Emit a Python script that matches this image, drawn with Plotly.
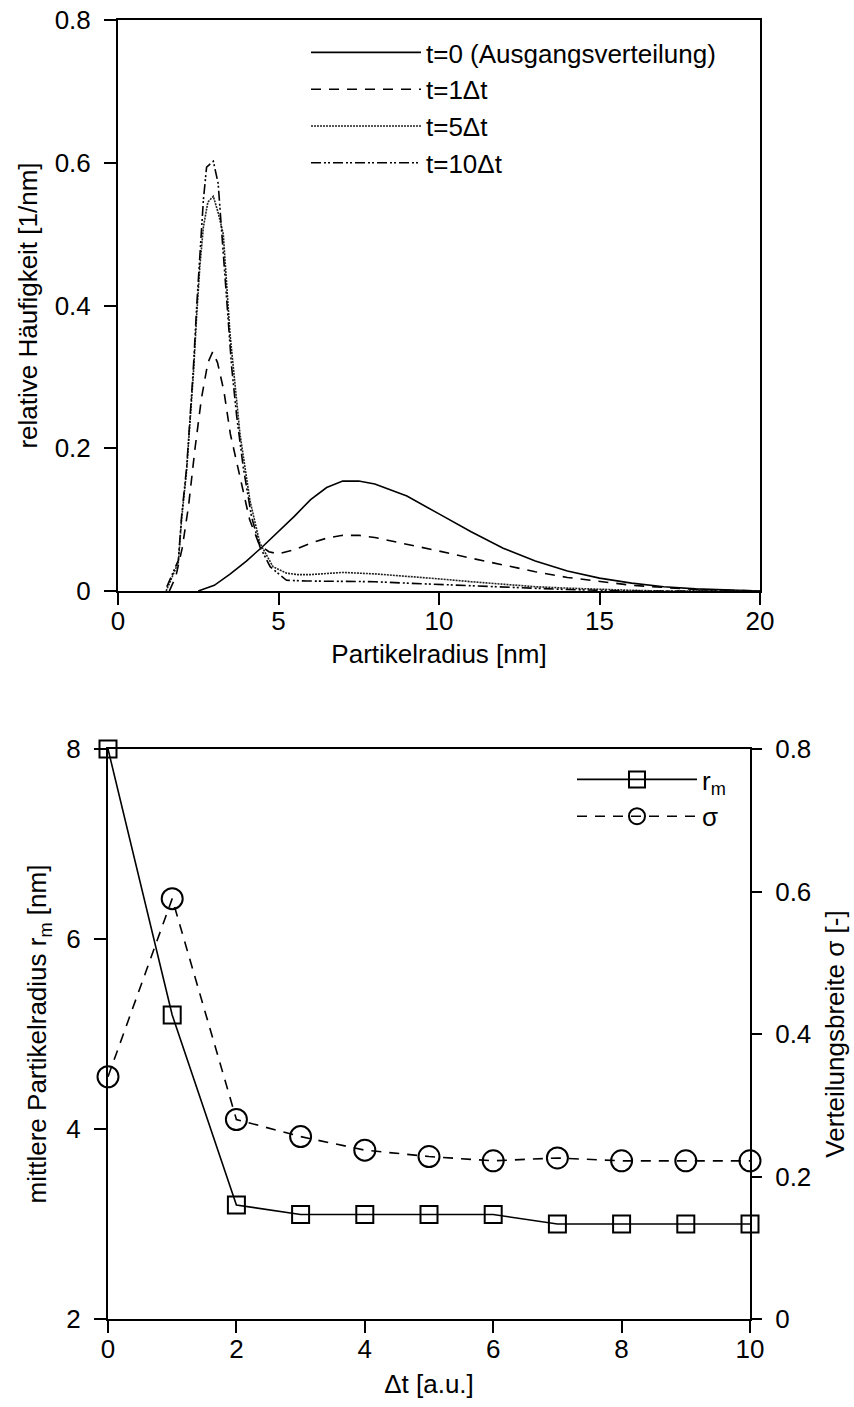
import plotly.graph_objects as go

# ---------------- top panel data ----------------
x_t0 = [2.5, 3, 3.5, 4, 4.5, 5, 5.5, 6, 6.5, 7, 7.5, 8, 9, 10, 11, 12, 13, 14, 15, 16, 17, 18, 19, 20]
y_t0 = [0, 0.008, 0.024, 0.042, 0.062, 0.083, 0.105, 0.128, 0.145, 0.154, 0.154, 0.15, 0.133, 0.108,
        0.083, 0.06, 0.042, 0.028, 0.018, 0.011, 0.006, 0.003, 0.001, 0]

x_t1 = [1.6, 1.8, 2.0, 2.2, 2.4, 2.6, 2.8, 2.95, 3.1, 3.3, 3.5, 3.8, 4.1, 4.4, 4.7, 5.0, 5.5, 6, 6.5,
        7, 7.5, 8, 9, 10, 11, 12, 13, 14, 15, 16, 17, 18, 19, 20]
y_t1 = [0, 0.02, 0.06, 0.12, 0.2, 0.27, 0.32, 0.335, 0.32, 0.28, 0.22, 0.16, 0.1, 0.065, 0.055, 0.052,
        0.058, 0.067, 0.074, 0.078, 0.078, 0.075, 0.066, 0.056, 0.046, 0.036, 0.027, 0.019, 0.013,
        0.008, 0.005, 0.002, 0.001, 0]

x_t5 = [1.5, 1.88, 1.98, 2.14, 2.24, 2.35, 2.45, 2.55, 2.66, 2.8, 2.97, 3.12, 3.28, 3.49, 3.8, 4.11,
        4.42, 4.83, 5.25, 5.6, 6, 7, 8, 9, 10, 11, 12, 13, 14, 15, 16, 17, 20]
y_t5 = [0, 0.04, 0.1, 0.17, 0.235, 0.305, 0.385, 0.455, 0.51, 0.545, 0.553, 0.53, 0.5, 0.36, 0.22,
        0.127, 0.067, 0.034, 0.025, 0.023, 0.023, 0.026, 0.024, 0.021, 0.017, 0.013, 0.009, 0.006,
        0.004, 0.002, 0.001, 0, 0]

x_t10 = [1.52, 1.88, 1.98, 2.14, 2.24, 2.35, 2.45, 2.55, 2.66, 2.76, 2.97, 3.12, 3.23, 3.39, 3.54,
         3.7, 3.9, 4.16, 4.42, 4.74, 5.25, 5.88, 7, 8, 9, 10, 11, 12, 13, 14, 15, 16, 20]
y_t10 = [0.006, 0.043, 0.104, 0.174, 0.24, 0.314, 0.398, 0.478, 0.548, 0.594, 0.602, 0.571, 0.501,
         0.408, 0.314, 0.244, 0.174, 0.104, 0.062, 0.034, 0.015, 0.014, 0.014, 0.013, 0.011, 0.009,
         0.007, 0.005, 0.003, 0.002, 0.001, 0, 0]

top_names = ["t=0 (Ausgangsverteilung)", "t=1\u0394t", "t=5\u0394t", "t=10\u0394t"]

# ---------------- bottom panel data ----------------
dt = [0, 1, 2, 3, 4, 5, 6, 7, 8, 9, 10]
r_m = [8.0, 5.2, 3.2, 3.1, 3.1, 3.1, 3.1, 3.0, 3.0, 3.0, 3.0]
sigma = [0.34, 0.59, 0.28, 0.256, 0.237, 0.228, 0.222, 0.226, 0.222, 0.222, 0.222]

FONT = "Liberation Sans, Arial, sans-serif"
FS = 26
W, H = 854, 1407

fig = go.Figure()

line_w = 1.6
fig.add_trace(go.Scatter(x=x_t0, y=y_t0, mode="lines", name=top_names[0],
                         line=dict(color="black", width=line_w, dash="solid"),
                         xaxis="x", yaxis="y", legend="legend"))
fig.add_trace(go.Scatter(x=x_t1, y=y_t1, mode="lines", name=top_names[1],
                         line=dict(color="black", width=line_w, dash="10px,8px"),
                         xaxis="x", yaxis="y", legend="legend"))
fig.add_trace(go.Scatter(x=x_t5, y=y_t5, mode="lines", name=top_names[2],
                         line=dict(color="#222", width=line_w, dash="2px,1px"),
                         xaxis="x", yaxis="y", legend="legend"))
fig.add_trace(go.Scatter(x=x_t10, y=y_t10, mode="lines", name=top_names[3],
                         line=dict(color="black", width=line_w, dash="10px,3px,2px,2px,2px,3px"),
                         xaxis="x", yaxis="y", legend="legend"))

fig.add_trace(go.Scatter(x=dt, y=r_m, mode="lines+markers", name="r<sub>m</sub>",
                         line=dict(color="black", width=1.6),
                         marker=dict(symbol="square-open", size=17, color="black",
                                     line=dict(width=2, color="black")),
                         cliponaxis=False, xaxis="x2", yaxis="y3", legend="legend2"))
fig.add_trace(go.Scatter(x=dt, y=sigma, mode="lines+markers", name="\u03c3",
                         line=dict(color="black", width=1.6, dash="10px,8px"),
                         marker=dict(symbol="circle-open", size=21, color="black",
                                     line=dict(width=2, color="black")),
                         cliponaxis=False, xaxis="x2", yaxis="y4", legend="legend2"))


def px_x(p):
    return p / W


def px_y(p):
    return 1 - p / H


def axis_style(ticklen=12, standoff=0):
    return dict(showline=True, linecolor="black", linewidth=2, ticks="outside",
                ticklen=ticklen, tickwidth=2, tickcolor="black", showgrid=False, zeroline=False,
                automargin=False, ticklabelstandoff=standoff,
                tickfont=dict(family=FONT, size=FS, color="black"),
                title_font=dict(family=FONT, size=FS, color="black"))


fig.update_layout(
    width=W, height=H,
    margin=dict(l=0, r=0, t=0, b=0, autoexpand=False),
    paper_bgcolor="white", plot_bgcolor="white",
    font=dict(family=FONT, size=FS, color="black"),
    xaxis=dict(domain=[px_x(118), px_x(760)], range=[0, 20], tickvals=[0, 5, 10, 15, 20],
               anchor="y", mirror=True, title=dict(text="Partikelradius [nm]", standoff=10),
               **axis_style(12, -6)),
    yaxis=dict(domain=[px_y(591), px_y(20)], range=[0, 0.8], tickvals=[0, 0.2, 0.4, 0.6, 0.8],
               ticktext=["0", "0.2", "0.4", "0.6", "0.8"],
               anchor="x", mirror=True, title=dict(text="relative Häufigkeit [1/nm]", standoff=10),
               **axis_style(12, 8)),
    xaxis2=dict(domain=[px_x(108), px_x(750)], range=[0, 10], tickvals=[0, 2, 4, 6, 8, 10],
                anchor="y3", mirror=True, title=dict(text="\u0394t [a.u.]", standoff=12),
                **axis_style(12, -6)),
    yaxis3=dict(domain=[px_y(1319), px_y(749)], range=[2, 8], tickvals=[2, 4, 6, 8],
                anchor="x2", title=dict(text="mittlere Partikelradius r<sub>m</sub> [nm]", standoff=12),
                **axis_style(12, 8)),
    yaxis4=dict(domain=[px_y(1319), px_y(749)], range=[0, 0.8], tickvals=[0, 0.2, 0.4, 0.6, 0.8],
                ticktext=["0", "0.2", "0.4", "0.6", "0.8"],
                anchor="x2", overlaying="y3", side="right",
                title=dict(text="Verteilungsbreite \u03c3 [-]", standoff=15),
                **axis_style(10, 8)),
    legend=dict(x=px_x(306), y=px_y(29), xanchor="left", yanchor="top",
                bgcolor="rgba(0,0,0,0)", borderwidth=0, itemwidth=110,
                font=dict(family=FONT, size=FS, color="black"), tracegroupgap=0),
    legend2=dict(x=px_x(572), y=px_y(756), xanchor="left", yanchor="top",
                 bgcolor="rgba(0,0,0,0)", borderwidth=0, itemwidth=120,
                 font=dict(family=FONT, size=FS, color="black"), tracegroupgap=0),
    showlegend=True,
)

fig.write_html("out.html")
